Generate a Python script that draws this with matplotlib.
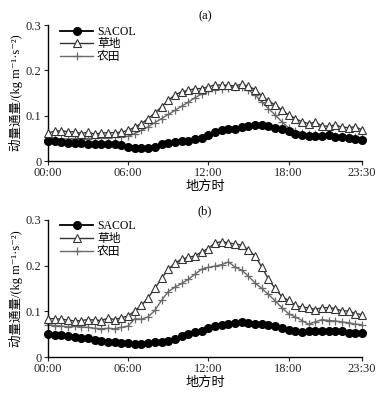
import matplotlib
matplotlib.use("Agg")
import matplotlib.pyplot as plt

plt.rcParams['font.family'] = ['Liberation Serif', 'DejaVu Serif', 'Noto Sans CJK SC']
plt.rcParams['axes.unicode_minus'] = False

hours = list(range(48))
tick_pos = [0, 12, 24, 36, 47]
tick_labels = ["00:00", "06:00", "12:00", "18:00", "23:30"]
series_names = ["SACOL", "草地", "农田"]

# panel (a)
sacol_a = [0.045, 0.044, 0.043, 0.041, 0.040, 0.040, 0.039, 0.038, 0.038, 0.037,
           0.037, 0.036, 0.031, 0.030, 0.030, 0.029, 0.032, 0.037, 0.040, 0.043,
           0.044, 0.045, 0.048, 0.052, 0.058, 0.064, 0.068, 0.070, 0.072, 0.076,
           0.078, 0.079, 0.080, 0.077, 0.074, 0.072, 0.066, 0.060, 0.057, 0.056,
           0.055, 0.055, 0.057, 0.054, 0.053, 0.051, 0.048, 0.046]
grass_a = [0.062, 0.066, 0.067, 0.065, 0.065, 0.061, 0.064, 0.060, 0.062, 0.063,
           0.063, 0.064, 0.068, 0.075, 0.083, 0.094, 0.106, 0.120, 0.134, 0.146,
           0.153, 0.156, 0.160, 0.160, 0.164, 0.168, 0.168, 0.167, 0.166, 0.170,
           0.165, 0.158, 0.144, 0.133, 0.124, 0.113, 0.102, 0.094, 0.087, 0.083,
           0.086, 0.078, 0.077, 0.080, 0.075, 0.074, 0.076, 0.069]
crop_a = [0.048, 0.048, 0.049, 0.049, 0.050, 0.050, 0.050, 0.051, 0.052, 0.052,
          0.053, 0.053, 0.055, 0.061, 0.068, 0.076, 0.085, 0.094, 0.103, 0.112,
          0.121, 0.130, 0.140, 0.148, 0.155, 0.158, 0.160, 0.162, 0.164, 0.164,
          0.157, 0.146, 0.131, 0.116, 0.102, 0.087, 0.074, 0.067, 0.062, 0.060,
          0.059, 0.058, 0.057, 0.056, 0.055, 0.054, 0.053, 0.052]

# panel (b)
sacol_b = [0.050, 0.049, 0.048, 0.046, 0.045, 0.042, 0.041, 0.038, 0.035, 0.034,
           0.033, 0.031, 0.030, 0.028, 0.029, 0.030, 0.032, 0.034, 0.036, 0.040,
           0.046, 0.050, 0.054, 0.058, 0.063, 0.068, 0.071, 0.073, 0.075, 0.077,
           0.074, 0.073, 0.072, 0.070, 0.068, 0.063, 0.060, 0.058, 0.055, 0.057,
           0.056, 0.058, 0.058, 0.057, 0.056, 0.053, 0.053, 0.052]
grass_b = [0.084, 0.084, 0.083, 0.081, 0.079, 0.080, 0.082, 0.081, 0.080, 0.085,
           0.082, 0.086, 0.090, 0.101, 0.113, 0.130, 0.150, 0.172, 0.192, 0.205,
           0.214, 0.218, 0.221, 0.230, 0.237, 0.250, 0.252, 0.250, 0.247, 0.245,
           0.234, 0.221, 0.197, 0.170, 0.150, 0.132, 0.124, 0.113, 0.109, 0.108,
           0.104, 0.108, 0.108, 0.106, 0.101, 0.101, 0.095, 0.093]
crop_b = [0.071, 0.069, 0.068, 0.066, 0.067, 0.066, 0.065, 0.063, 0.062, 0.063,
          0.062, 0.065, 0.068, 0.084, 0.083, 0.088, 0.102, 0.124, 0.143, 0.153,
          0.161, 0.170, 0.181, 0.192, 0.196, 0.199, 0.202, 0.208, 0.197, 0.190,
          0.177, 0.162, 0.150, 0.137, 0.123, 0.108, 0.095, 0.088, 0.080, 0.072,
          0.077, 0.082, 0.080, 0.079, 0.077, 0.075, 0.072, 0.071]

panels = [("(a)", sacol_a, grass_a, crop_a, [0.124, 0.596, 0.814, 0.341]),
          ("(b)", sacol_b, grass_b, crop_b, [0.124, 0.105, 0.814, 0.344])]

fig = plt.figure(figsize=(3.86, 3.99), dpi=100)

for title, s, g, c, pos in panels:
    ax = fig.add_axes(pos)
    ax.plot(hours, s, color="black", linewidth=1.3, marker="o",
            markersize=5.5, label=series_names[0], clip_on=False, zorder=3)
    ax.plot(hours, g, color="#333333", linewidth=1.0, marker="^",
            markersize=5.5, markerfacecolor="white", markeredgecolor="#333333",
            markeredgewidth=0.8, label=series_names[1], clip_on=False, zorder=4)
    ax.plot(hours, c, color="#6a6a6a", linewidth=1.0, marker="+",
            markersize=5.5, markeredgewidth=0.9, label=series_names[2],
            clip_on=False, zorder=2)

    ax.set_xlim(0, 47)
    ax.set_ylim(0, 0.3)
    ax.set_xticks(tick_pos)
    ax.set_xticklabels(tick_labels)
    ax.set_yticks([0, 0.1, 0.2, 0.3])
    ax.set_yticklabels(["0", "0.1", "0.2", "0.3"])
    ax.tick_params(axis="both", labelsize=9, direction="out", length=3,
                   width=0.8, pad=1.5, colors="#222222")
    for side in ["top", "right"]:
        ax.spines[side].set_visible(False)
    for side in ["left", "bottom"]:
        ax.spines[side].set_linewidth(1.0)

    ax.set_title(title, fontsize=9, pad=4)
    ax.set_xlabel("地方时", fontsize=9.5, labelpad=1)
    ax.set_ylabel("动量通量/(kg m⁻¹·s⁻²)", fontsize=9, labelpad=2)
    ax.legend(loc="upper left", frameon=False, fontsize=8.5, handlelength=2.8,
              handletextpad=0.3, labelspacing=0.05, borderaxespad=0.0,
              bbox_to_anchor=(0.025, 1.03))

fig.savefig("out.png", dpi=100)
